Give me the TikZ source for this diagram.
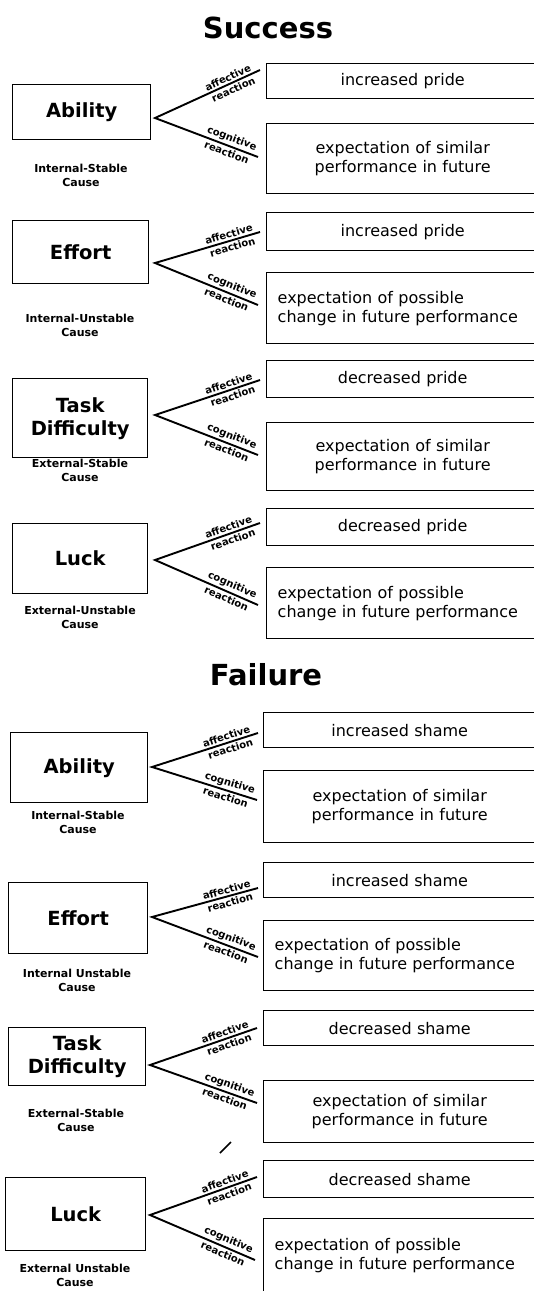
\documentclass[tikz,border=0pt]{standalone}
\usepackage{fontspec}
\setmainfont{DejaVu Sans}
\begin{document}
\begin{tikzpicture}[x=1pt,y=-1pt,
  cause/.style={draw, line width=1.4pt, anchor=north west, inner sep=0pt, align=center,
    font=\fontsize{19.5}{23}\selectfont\bfseries},
  capt/.style={anchor=north, inner sep=0pt, align=center,
    font=\fontsize{11}{13.5}\selectfont\bfseries},
  rbox/.style={draw, line width=1.4pt, anchor=north west, text width=250pt, inner xsep=11pt,
    inner ysep=0pt, font=\fontsize{16}{19}\selectfont},
  rboxc/.style={rbox, align=center},
  rboxl/.style={rbox, align=left},
  branch/.style={line width=1.9pt},
  blab/.style={font=\fontsize{10}{11}\selectfont\bfseries, sloped, inner sep=1.8pt},
  ttl/.style={font=\fontsize{29}{34}\selectfont\bfseries}]
\useasboundingbox (0,0) rectangle (534,1291);
\clip (0,0) rectangle (534,1291);

\node[ttl] (succ) at (268,28) {Success};
\node[ttl] (fail) at (266,675) {Failure};

% ---------- block 1
\node[cause, minimum width=138pt, minimum height=55pt] (c1) at (12,84) {Ability};
\node[capt] (k1) at (81,164) {Internal-Stable\\Cause};
\coordinate (v1) at (155,118);
\coordinate (u1) at (260,70);
\coordinate (d1) at (258,157);
\node[rboxc, minimum height=35pt] (a1) at (266,63) {increased pride};
\node[rboxc, minimum height=70pt] (g1) at (266,123) {expectation of similar\\performance in future};
\draw[branch] (u1) -- node[blab, below, pos=0.28]{reaction} node[blab, above, pos=0.28]{affective} (v1) -- node[blab, above, pos=0.72]{cognitive} node[blab, below, pos=0.72]{reaction} (d1);

% ---------- block 2
\node[cause, minimum width=136pt, minimum height=63pt] (c2) at (12,220) {Effort};
\node[capt] (k2) at (80,314) {Internal-Unstable\\Cause};
\coordinate (v2) at (155,263);
\coordinate (u2) at (260,232);
\coordinate (d2) at (258,305);
\node[rboxc, minimum height=38pt] (a2) at (266,212) {increased pride};
\node[rboxl, minimum height=71pt] (g2) at (266,272) {expectation of possible\\change in future performance};
\draw[branch] (u2) -- node[blab, below, pos=0.28]{reaction} node[blab, above, pos=0.28]{affective} (v2) -- node[blab, above, pos=0.72]{cognitive} node[blab, below, pos=0.72]{reaction} (d2);

% ---------- block 3
\node[cause, minimum width=135pt, minimum height=79pt] (c3) at (12,378) {Task\\Difficulty};
\node[capt] (k3) at (80,459) {External-Stable\\Cause};
\coordinate (v3) at (155,415);
\coordinate (u3) at (260,380);
\coordinate (d3) at (258,455);
\node[rboxc, minimum height=37pt] (a3) at (266,360) {decreased pride};
\node[rboxc, minimum height=68pt] (g3) at (266,422) {expectation of similar\\performance in future};
\draw[branch] (u3) -- node[blab, below, pos=0.28]{reaction} node[blab, above, pos=0.28]{affective} (v3) -- node[blab, above, pos=0.72]{cognitive} node[blab, below, pos=0.72]{reaction} (d3);

% ---------- block 4
\node[cause, minimum width=135pt, minimum height=70pt] (c4) at (12,523) {Luck};
\node[capt] (k4) at (80,606) {External-Unstable\\Cause};
\coordinate (v4) at (155,560);
\coordinate (u4) at (260,523);
\coordinate (d4) at (258,605);
\node[rboxc, minimum height=37pt] (a4) at (266,508) {decreased pride};
\node[rboxl, minimum height=71pt] (g4) at (266,567) {expectation of possible\\change in future performance};
\draw[branch] (u4) -- node[blab, below, pos=0.28]{reaction} node[blab, above, pos=0.28]{affective} (v4) -- node[blab, above, pos=0.72]{cognitive} node[blab, below, pos=0.72]{reaction} (d4);

% ---------- block 5
\node[cause, minimum width=137pt, minimum height=70pt] (c5) at (10,732) {Ability};
\node[capt] (k5) at (78,811) {Internal-Stable\\Cause};
\coordinate (v5) at (152,767);
\coordinate (u5) at (258,733);
\coordinate (d5) at (257,800);
\node[rboxc, minimum height=35pt] (a5) at (263,712) {increased shame};
\node[rboxc, minimum height=72pt] (g5) at (263,770) {expectation of similar\\performance in future};
\draw[branch] (u5) -- node[blab, below, pos=0.28]{reaction} node[blab, above, pos=0.28]{affective} (v5) -- node[blab, above, pos=0.72]{cognitive} node[blab, below, pos=0.72]{reaction} (d5);

% ---------- block 6
\node[cause, minimum width=139pt, minimum height=71pt] (c6) at (8,882) {Effort};
\node[capt] (k6) at (77,969) {Internal Unstable\\Cause};
\coordinate (v6) at (152,917);
\coordinate (u6) at (258,888);
\coordinate (d6) at (258,957);
\node[rboxc, minimum height=35pt] (a6) at (263,862) {increased shame};
\node[rboxl, minimum height=70pt] (g6) at (263,920) {expectation of possible\\change in future performance};
\draw[branch] (u6) -- node[blab, below, pos=0.28]{reaction} node[blab, above, pos=0.28]{affective} (v6) -- node[blab, above, pos=0.72]{cognitive} node[blab, below, pos=0.72]{reaction} (d6);

% ---------- block 7
\node[cause, minimum width=137pt, minimum height=58pt] (c7) at (8,1027) {Task\\Difficulty};
\node[capt] (k7) at (76,1109) {External-Stable\\Cause};
\coordinate (v7) at (150,1065);
\coordinate (u7) at (257,1028);
\coordinate (d7) at (257,1103);
\node[rboxc, minimum height=35pt] (a7) at (263,1010) {decreased shame};
\node[rboxc, minimum height=62pt] (g7) at (263,1080) {expectation of similar\\performance in future};
\draw[branch] (u7) -- node[blab, below, pos=0.28]{reaction} node[blab, above, pos=0.28]{affective} (v7) -- node[blab, above, pos=0.72]{cognitive} node[blab, below, pos=0.72]{reaction} (d7);
\draw[line width=1.6pt] (220,1153) -- (231,1142);

% ---------- block 8
\node[cause, minimum width=140pt, minimum height=73pt] (c8) at (5,1177) {Luck};
\node[capt] (k8) at (75,1264) {External Unstable\\Cause};
\coordinate (v8) at (150,1215);
\coordinate (u8) at (257,1177);
\coordinate (d8) at (255,1260);
\node[rboxc, minimum height=37pt] (a8) at (263,1160) {decreased shame};
\node[rboxl, minimum height=74pt] (g8) at (263,1218) {expectation of possible\\change in future performance};
\draw[branch] (u8) -- node[blab, below, pos=0.28]{reaction} node[blab, above, pos=0.28]{affective} (v8) -- node[blab, above, pos=0.72]{cognitive} node[blab, below, pos=0.72]{reaction} (d8);
\end{tikzpicture}
\end{document}
